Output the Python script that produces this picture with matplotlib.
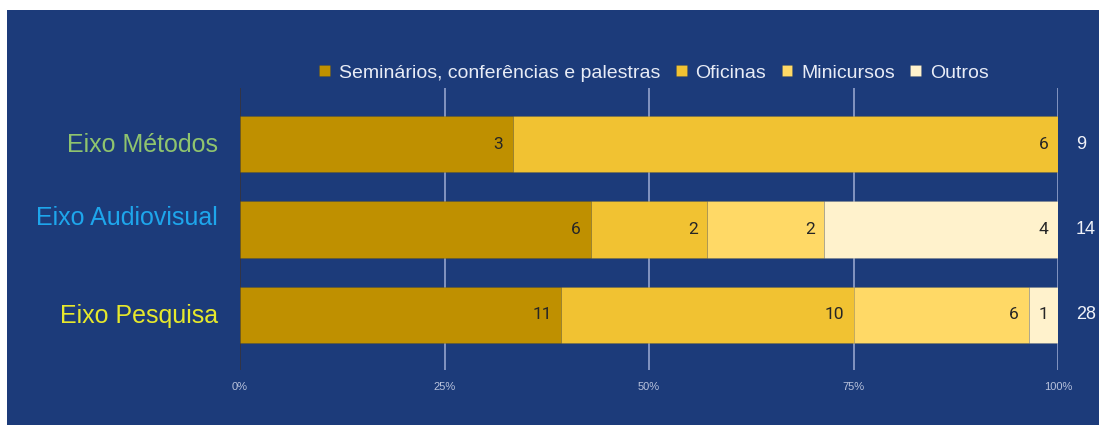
import matplotlib
matplotlib.use('Agg')
import matplotlib.pyplot as plt
import matplotlib.transforms as mtransforms
from matplotlib.patches import Rectangle
import numpy as np

plt.rcParams['font.family'] = ['Liberation Sans', 'DejaVu Sans']

# data
categories = ['Eixo Métodos', 'Eixo Audiovisual', 'Eixo Pesquisa']
cat_colors = ['#8fc46e', '#1ea6ec', '#e6e82c']
series = ['Seminários, conferências e palestras', 'Oficinas', 'Minicursos', 'Outros']
series_colors = ['#bf9000', '#f1c232', '#ffd966', '#fff2cc']
seminarios = [3, 6, 11]
oficinas = [6, 2, 10]
minicursos = [0, 2, 6]
outros = [0, 4, 1]
x_ticks = [0, 25, 50, 75, 100]
x_ticklabels = ['0%', '25%', '50%', '75%', '100%']

values = np.array([seminarios, oficinas, minicursos, outros], dtype=float)
totals = values.sum(axis=0)
pct = values / totals * 100

bg = '#1c3b7a'
fig = plt.figure(figsize=(10.99, 4.25), dpi=100)
fig.patch.set_facecolor('white')
fig.patches.append(Rectangle((7 / 1099, 0), 1, 1 - 10 / 425, transform=fig.transFigure,
                             facecolor=bg, edgecolor='none', zorder=-10))

ax = fig.add_axes([240 / 1099, 1 - 370 / 425, 818 / 1099, 282 / 425])
ax.set_facecolor('none')

y = np.arange(len(categories))
left = np.zeros(len(categories))
for i in range(len(series)):
    bars = ax.barh(y, pct[i], left=left, height=0.66, color=series_colors[i],
                   edgecolor='#00000018', linewidth=0.6, label=series[i], zorder=3)
    for j, b in enumerate(bars):
        if values[i, j] > 0:
            ax.annotate(f'{int(values[i, j])}', (left[j] + pct[i, j], y[j]),
                        xytext=(-7, 0), textcoords='offset points', ha='right', va='center',
                        fontsize=12.5, color='#262626', family=['Roboto', 'DejaVu Sans'], zorder=4)
    left += pct[i]

for j in range(len(categories)):
    ax.annotate(f'{int(totals[j])}', (100, y[j]), xytext=(13, 0), textcoords='offset points',
                ha='left', va='center', fontsize=13, color='#f0f2f8', annotation_clip=False)

ax.set_xlim(0, 100)
ax.set_ylim(2.65, -0.66)
ax.set_xticks(x_ticks)
ax.set_xticklabels(x_ticklabels)
ax.set_yticks(y)
ax.set_yticklabels(categories)
ax.tick_params(axis='x', length=0, pad=9, labelsize=8, labelcolor='#b8c2dc')
ax.tick_params(axis='y', length=0, pad=16, labelsize=18)
for lbl, c in zip(ax.get_yticklabels(), cat_colors):
    lbl.set_color(c)
# label offsets as in the original (audiovisual sits above its bar)
for lbl, dy in zip(ax.get_yticklabels(), [2, 14, 1]):
    lbl.set_transform(lbl.get_transform() + mtransforms.ScaledTranslation(0, dy / 100, fig.dpi_scale_trans))

for s in ax.spines.values():
    s.set_visible(False)
ax.grid(axis='x', color='#8a9bc6', linewidth=1.3, zorder=1)
ax.axvline(0, color='#2a2a3a', linewidth=1.3, zorder=2)

leg = ax.legend(ncol=4, loc='center', bbox_to_anchor=(654 / 1099, 1 - 73 / 425), bbox_transform=fig.transFigure,
                frameon=False, fontsize=14, handlelength=0.55, handleheight=0.55, handletextpad=0.45,
                columnspacing=0.8, labelcolor='#e8ecf6')

fig.savefig('out.png', dpi=100, facecolor=fig.get_facecolor())
